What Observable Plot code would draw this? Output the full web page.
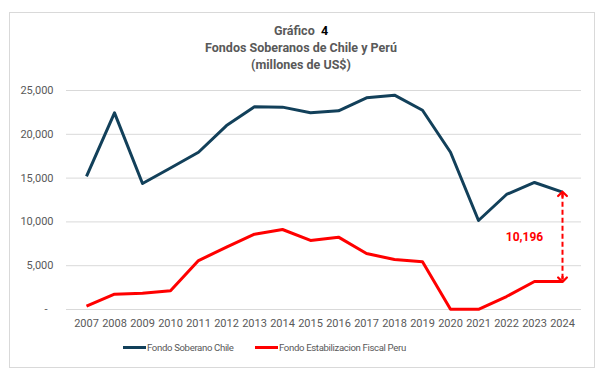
<!DOCTYPE html>
<html>
<head>
<meta charset="utf-8">
<script src="https://cdn.jsdelivr.net/npm/d3@7"></script>
<script src="https://cdn.jsdelivr.net/npm/@observablehq/plot@0.6"></script>
<style>
  body { margin: 0; background: #fff; width: 602px; height: 379px; position: relative; overflow: hidden;
         font-family: "Liberation Sans Narrow", "Roboto", "Liberation Sans", sans-serif; }
  #frame { position: absolute; left: 9px; top: 12px; width: 586px; height: 356px; box-sizing: border-box;
           border: 1px solid #d9d9d9; }
  #title { position: absolute; left: 0; top: 22px; width: 602px; text-align: center; font-weight: bold;
           font-size: 12.5px; line-height: 17px; color: #595959; }
  #title .n { color: #000; }
  #chart { position: absolute; left: 0; top: 80px; }
  #legend { position: absolute; top: 342px; left: 123px; display: flex; justify-content: flex-start;
            font-size: 9.6px; letter-spacing: -0.35px; color: #595959; align-items: center; }
  .item { display: flex; align-items: center; }
  .item:first-child { width: 132px; }
  .sw { width: 23px; height: 3px; margin-right: 1px; }
</style>
</head>
<body>
<div id="frame"></div>
<div id="title">Gráfico&nbsp; <span class="n">4</span><br>Fondos Soberanos de Chile y Perú<br>(millones de US$)</div>
<div id="chart"></div>
<div id="legend"></div>
<script>
const years = ["2007","2008","2009","2010","2011","2012","2013","2014","2015","2016","2017","2018","2019","2020","2021","2022","2023","2024"];
const chile = [15200, 22450, 14380, 16150, 17950, 21000, 23140, 23100, 22450, 22680, 24170, 24470, 22750, 17950, 10160, 13130, 14500, 13400];
const peru  = [380, 1750, 1860, 2130, 5590, 7110, 8600, 9130, 7880, 8260, 6390, 5710, 5440, 20, 20, 1480, 3200, 3204];
const seriesNames = ["Fondo Soberano Chile", "Fondo Estabilizacion Fiscal Peru"];
const seriesColors = ["#12405a", "#ff0000"];
const yTicks = [0, 5000, 10000, 15000, 20000, 25000];
const gapLabel = "10,196";

const rows = [];
years.forEach((y, i) => {
  rows.push({year: y, value: chile[i], series: seriesNames[0]});
  rows.push({year: y, value: peru[i], series: seriesNames[1]});
});
const last = years.length - 1;
const gap = [{year: years[last], top: chile[last] - 200, bottom: peru[last] + 200, mid: (chile[last] + peru[last]) / 2}];
const stem = 400;

const plot = Plot.plot({
  width: 602,
  height: 259,
  marginTop: 10,
  marginBottom: 30,
  marginLeft: 66,
  marginRight: 21,
  style: {fontFamily: '"Liberation Sans Narrow", Roboto, "Liberation Sans", sans-serif', fontSize: "11px", color: "#595959", background: "transparent"},
  x: {type: "band", domain: years, padding: 0, label: null},
  y: {domain: [0, 25000], label: null},
  color: {domain: seriesNames, range: seriesColors},
  marks: [
    Plot.gridY(yTicks, {stroke: "#d9d9d9", strokeOpacity: 1, strokeWidth: 1}),
    Plot.axisY(yTicks.filter(d => d > 0), {tickSize: 0, tickPadding: 13, tickFormat: d3.format(","), label: null, fill: "#595959"}),
    Plot.axisY([0], {tickSize: 0, tickPadding: 19, tickFormat: () => "-", label: null, fill: "#595959"}),
    Plot.axisX({tickSize: 0, tickPadding: 10, label: null, fill: "#595959"}),
    Plot.line(rows, {x: "year", y: "value", z: "series", stroke: "series", strokeWidth: 3, strokeLinejoin: "round", strokeLinecap: "butt"}),
    Plot.link(gap, {x1: "year", x2: "year", y1: "top", y2: "bottom", stroke: "#ff0000", strokeWidth: 2, strokeDasharray: "5,3"}),
    Plot.link(gap, {x1: "year", x2: "year", y1: d => d.top - stem, y2: "top", stroke: "#ff0000", strokeWidth: 2.2, markerEnd: "arrow"}),
    Plot.link(gap, {x1: "year", x2: "year", y1: d => d.bottom + stem, y2: "bottom", stroke: "#ff0000", strokeWidth: 2.2, markerEnd: "arrow"}),
    Plot.text(gap, {x: "year", y: "mid", text: () => gapLabel, dx: -38, fill: "#ff0000", fontWeight: "bold", fontSize: 12})
  ]
});
document.getElementById("chart").appendChild(plot);

const legend = document.getElementById("legend");
seriesNames.forEach((name, i) => {
  const item = document.createElement("div");
  item.className = "item";
  const sw = document.createElement("div");
  sw.className = "sw";
  sw.style.background = seriesColors[i];
  const t = document.createElement("span");
  t.textContent = name;
  item.appendChild(sw);
  item.appendChild(t);
  legend.appendChild(item);
});
</script>
</body>
</html>
